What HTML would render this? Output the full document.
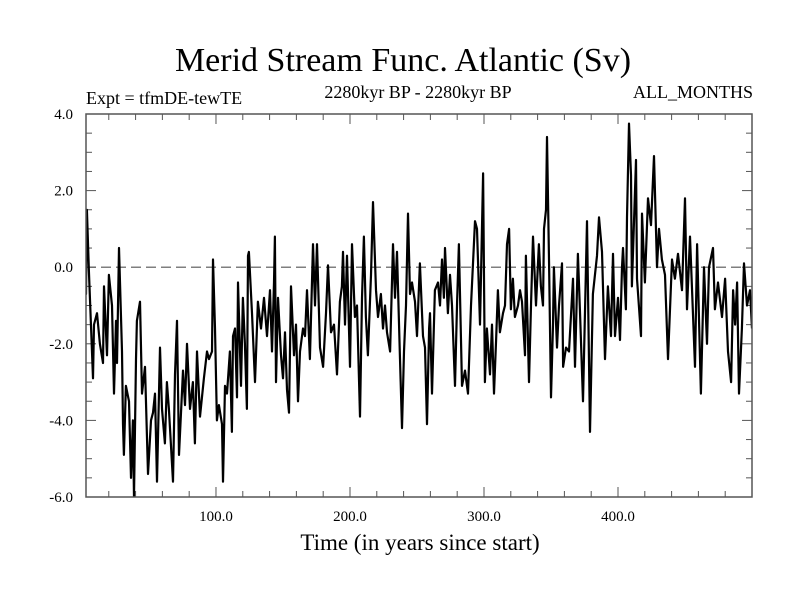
<!DOCTYPE html>
<html><head><meta charset="utf-8"><style>
body{margin:0;background:#fff}
svg text{font-family:"Liberation Serif",serif;fill:#000}
</style></head><body>
<svg id="chart" width="800" height="600" viewBox="0 0 800 600" xmlns="http://www.w3.org/2000/svg">
<rect width="800" height="600" fill="#fff"/>
<text x="403" y="71" font-size="34" text-anchor="middle">Merid Stream Func. Atlantic (Sv)</text>
<text x="86" y="104" font-size="18">Expt = tfmDE-tewTE</text>
<text x="418" y="98" font-size="18" text-anchor="middle">2280kyr BP - 2280kyr BP</text>
<text x="753" y="98" font-size="18" text-anchor="end">ALL_MONTHS</text>
<text x="420" y="550" font-size="23" text-anchor="middle">Time (in years since start)</text>
<g id="axes"></g>
<g id="series"></g>
<rect x="86" y="114" width="666" height="383" fill="none" stroke="#555" stroke-width="1.5"/>
</svg>
<script>
const years=[1.5,3,3.7,5.2,8.2,9,11.2,13.4,15.7,16.4,18.7,20.1,22.4,23.9,25.4,26.1,27.6,29.9,30.6,31.3,32.8,35.1,36.6,38,38.8,40.3,41,43.3,44.8,47,49.3,51.5,53,54.5,56,58.2,59.7,61.9,63.4,64.9,67.9,69.4,70.9,72.4,75.4,76.9,78.4,80.6,82.8,84.3,85.8,88.1,91,93.3,94.8,97,97.8,99.3,100.7,102.2,104.5,105.2,106.7,108.2,110.4,111.9,112.7,114.2,115.7,116.4,118.7,120.1,121.6,123.1,123.9,
124.6,126.9,129.1,131.3,133.6,135.8,138.1,140.3,141.8,143.3,144,144.8,146.3,148.5,150,151.5,153,154.5,156,158.2,159.7,161.2,162.7,164.9,166.4,167.9,170.1,172.4,173.9,175.4,177.6,179.9,182.1,183.6,185.8,188.1,190.3,192.5,194,194.8,196.3,197.8,200,201.5,203.7,205.2,207.5,209,210.4,211.9,213.4,215.7,217.2,219.4,220.9,223.1,224.6,226.1,227.6,229.9,232.1,233.6,235.1,237.3,238.8,240.3,241.8,243.3,244.8,246.3,248.5,
250,252.2,254.5,256,257.5,259,259.7,261.2,263.4,265.7,267.2,268.7,270.1,270.9,273.1,274.6,276.1,278.4,279.9,281.3,283.6,285.8,288.1,290.3,293.3,294.8,297,299.3,300.7,302.2,304.5,306,307.5,309,310.4,311.9,314.2,315.7,317.2,318.7,320.1,321.6,323.1,325.4,326.9,328.4,330.6,331.3,333.6,335.1,336.6,338.8,341,342.5,344,344.8,346.3,347,348.5,350,351.5,352.2,354.5,356,358.2,359,361.2,363.4,366.4,367.9,370.1,
371.6,373.9,376.9,379.1,381.3,384.3,385.8,388.1,390.3,392.5,394.8,396.3,397.8,400,401.5,403,403.7,405.9,406.7,408.2,409.7,410.4,413.4,414.2,417.2,417.9,420.1,422.4,424.6,426.9,429.1,430.6,432.8,435.1,437.3,440.3,442.5,444.8,447.8,450,451.5,453.7,457.5,459,461.9,464.2,466.4,467.9,470.9,472.3,474.6,477.6,479.9,482.1,484.4,485.9,487.4,488.9,490.3,492.5,494,496.3,498.5,500];
const values=[1.15,-0.7,1.5,-0.1,-2.9,-1.5,-1.2,-2.0,-2.5,-0.5,-2.3,-0.2,-1.0,-3.3,-1.4,-2.5,0.5,-2.2,-4.1,-4.9,-3.1,-3.5,-5.5,-4.0,-6.0,-2.4,-1.4,-0.9,-3.3,-2.6,-5.4,-4.0,-3.8,-3.3,-5.6,-2.1,-3.7,-4.6,-3.0,-3.7,-5.6,-2.8,-1.4,-4.9,-2.7,-3.6,-2.0,-3.7,-3.0,-4.6,-2.2,-3.9,-2.9,-2.2,-2.4,-2.2,0.2,-1.6,-4.0,-3.6,-4.1,-5.6,-3.1,-3.3,-2.2,-4.3,-1.8,-1.6,-3.4,-0.4,-3.1,-0.8,-2.0,-3.7,0.3,
0.4,-1.2,-3.0,-0.9,-1.6,-0.8,-1.8,-0.6,-2.2,-0.4,0.8,-3.0,-0.8,-2.3,-2.9,-1.7,-3.2,-3.8,-0.5,-2.3,-1.5,-3.5,-2.2,-1.6,-1.8,-0.6,-2.4,0.6,-1.0,0.6,-2.1,-2.6,-1.2,0.05,-1.7,-1.5,-2.8,-0.9,-0.5,0.4,-1.5,0.3,-2.6,0.6,-1.3,-1.0,-3.9,-0.8,0.8,-1.3,-2.3,-0.2,1.7,-0.6,-1.3,-0.7,-1.6,-1.0,-1.7,-2.2,0.6,-0.8,0.4,-2.4,-4.2,-2.2,-1.0,1.4,-0.7,-0.4,-0.9,
-1.8,0.1,-1.8,-2.1,-4.1,-1.6,-1.2,-3.3,-0.6,-0.4,-1.0,0.2,-0.8,0.5,-1.2,-0.2,-1.0,-3.1,-0.9,0.6,-3.1,-2.7,-3.3,-1.0,1.2,1.0,-1.5,2.45,-3.0,-1.6,-2.8,-1.5,-3.3,-1.9,-0.6,-1.7,-1.2,-1.0,0.6,1.0,-1.1,-0.3,-1.3,-1.0,-0.6,-0.9,-2.3,0.3,-3.0,-1.0,0.8,-1.0,0.6,-0.5,-1.0,1.0,1.5,3.4,0.2,-3.4,-1.5,0.0,-2.1,-1.0,0.1,-2.6,-2.1,-2.2,-0.3,-2.6,0.35,
-1.1,-3.5,1.2,-4.3,-0.7,0.3,1.3,0.4,-2.4,-0.5,-1.8,0.35,-1.8,-0.8,-1.9,0.0,0.5,-1.1,1.3,3.75,2.4,-0.5,2.8,-0.3,-1.8,1.4,-0.4,1.8,1.1,2.9,0.0,1.0,0.2,-0.2,-2.4,0.2,-0.3,0.35,-0.6,1.8,-1.1,0.8,-2.6,0.6,-3.3,0.0,-2.0,0.0,0.5,-1.1,-0.4,-1.3,-0.3,-2.2,-3.0,-0.6,-1.5,-0.4,-3.3,-1.6,0.1,-1.0,-0.6,-1.6];
const yTickLabels=["4.0","2.0","0.0","-2.0","-4.0","-6.0"];
const yTickValues=[4,2,0,-2,-4,-6];
const xTickLabels=["100.0","200.0","300.0","400.0"];
const xTickValues=[100,200,300,400];

const NS="http://www.w3.org/2000/svg";
const L=86,R=752,T=114,B=497,X0=3,X1=500,Y0=-6,Y1=4;
const sx=v=>L+(v-X0)/(X1-X0)*(R-L);
const sy=v=>B-(v-Y0)/(Y1-Y0)*(B-T);
function mk(tag,attrs,parent){const e=document.createElementNS(NS,tag);for(const k in attrs)e.setAttribute(k,attrs[k]);parent.appendChild(e);return e;}
const axes=document.getElementById('axes');
for(let v=Y0;v<=Y1+1e-9;v+=0.5){
  const y=sy(v);const major=Math.abs(v/2-Math.round(v/2))<1e-9;const len=major?10:6;
  let t=mk('line',{x1:L,x2:L+len,y1:y,y2:y,stroke:'#555','stroke-width':1},axes);
  
  
  t=mk('line',{x1:R,x2:R-len,y1:y,y2:y,stroke:'#555','stroke-width':1},axes);
  
  
}
for(let v=20;v<X1;v+=20){
  const x=sx(v);const major=v%100===0;const len=major?10:6;
  let t=mk('line',{x1:x,x2:x,y1:B,y2:B-len,stroke:'#555','stroke-width':1},axes);
  
  
  t=mk('line',{x1:x,x2:x,y1:T,y2:T+len,stroke:'#555','stroke-width':1},axes);
  
  
}
yTickValues.forEach((v,i)=>{
  const t=mk('text',{x:73,y:sy(v)+5,'font-size':15,'text-anchor':'end'},axes);
  t.textContent=yTickLabels[i];
  
  
});
xTickValues.forEach((v,i)=>{
  const t=mk('text',{x:sx(v),y:521,'font-size':15,'text-anchor':'middle'},axes);
  t.textContent=xTickLabels[i];
  
  
});
const zl=mk('line',{x1:L,x2:R,y1:sy(0),y2:sy(0),stroke:'#555','stroke-width':1.2,'stroke-dasharray':'10,5'},axes);


const series=document.getElementById('series');
const cp=mk('clipPath',{id:'clip'},series);mk('rect',{x:L,y:T,width:R-L,height:B-T},cp);
const d=years.map((yr,i)=>(i?'L':'M')+sx(yr).toFixed(1)+','+sy(values[i]).toFixed(1)).join('');
const p=mk('path',{d:d,fill:'none',stroke:'#000','stroke-width':2.2,'stroke-linejoin':'round','clip-path':'url(#clip)'},series);


</script>
</body></html>
